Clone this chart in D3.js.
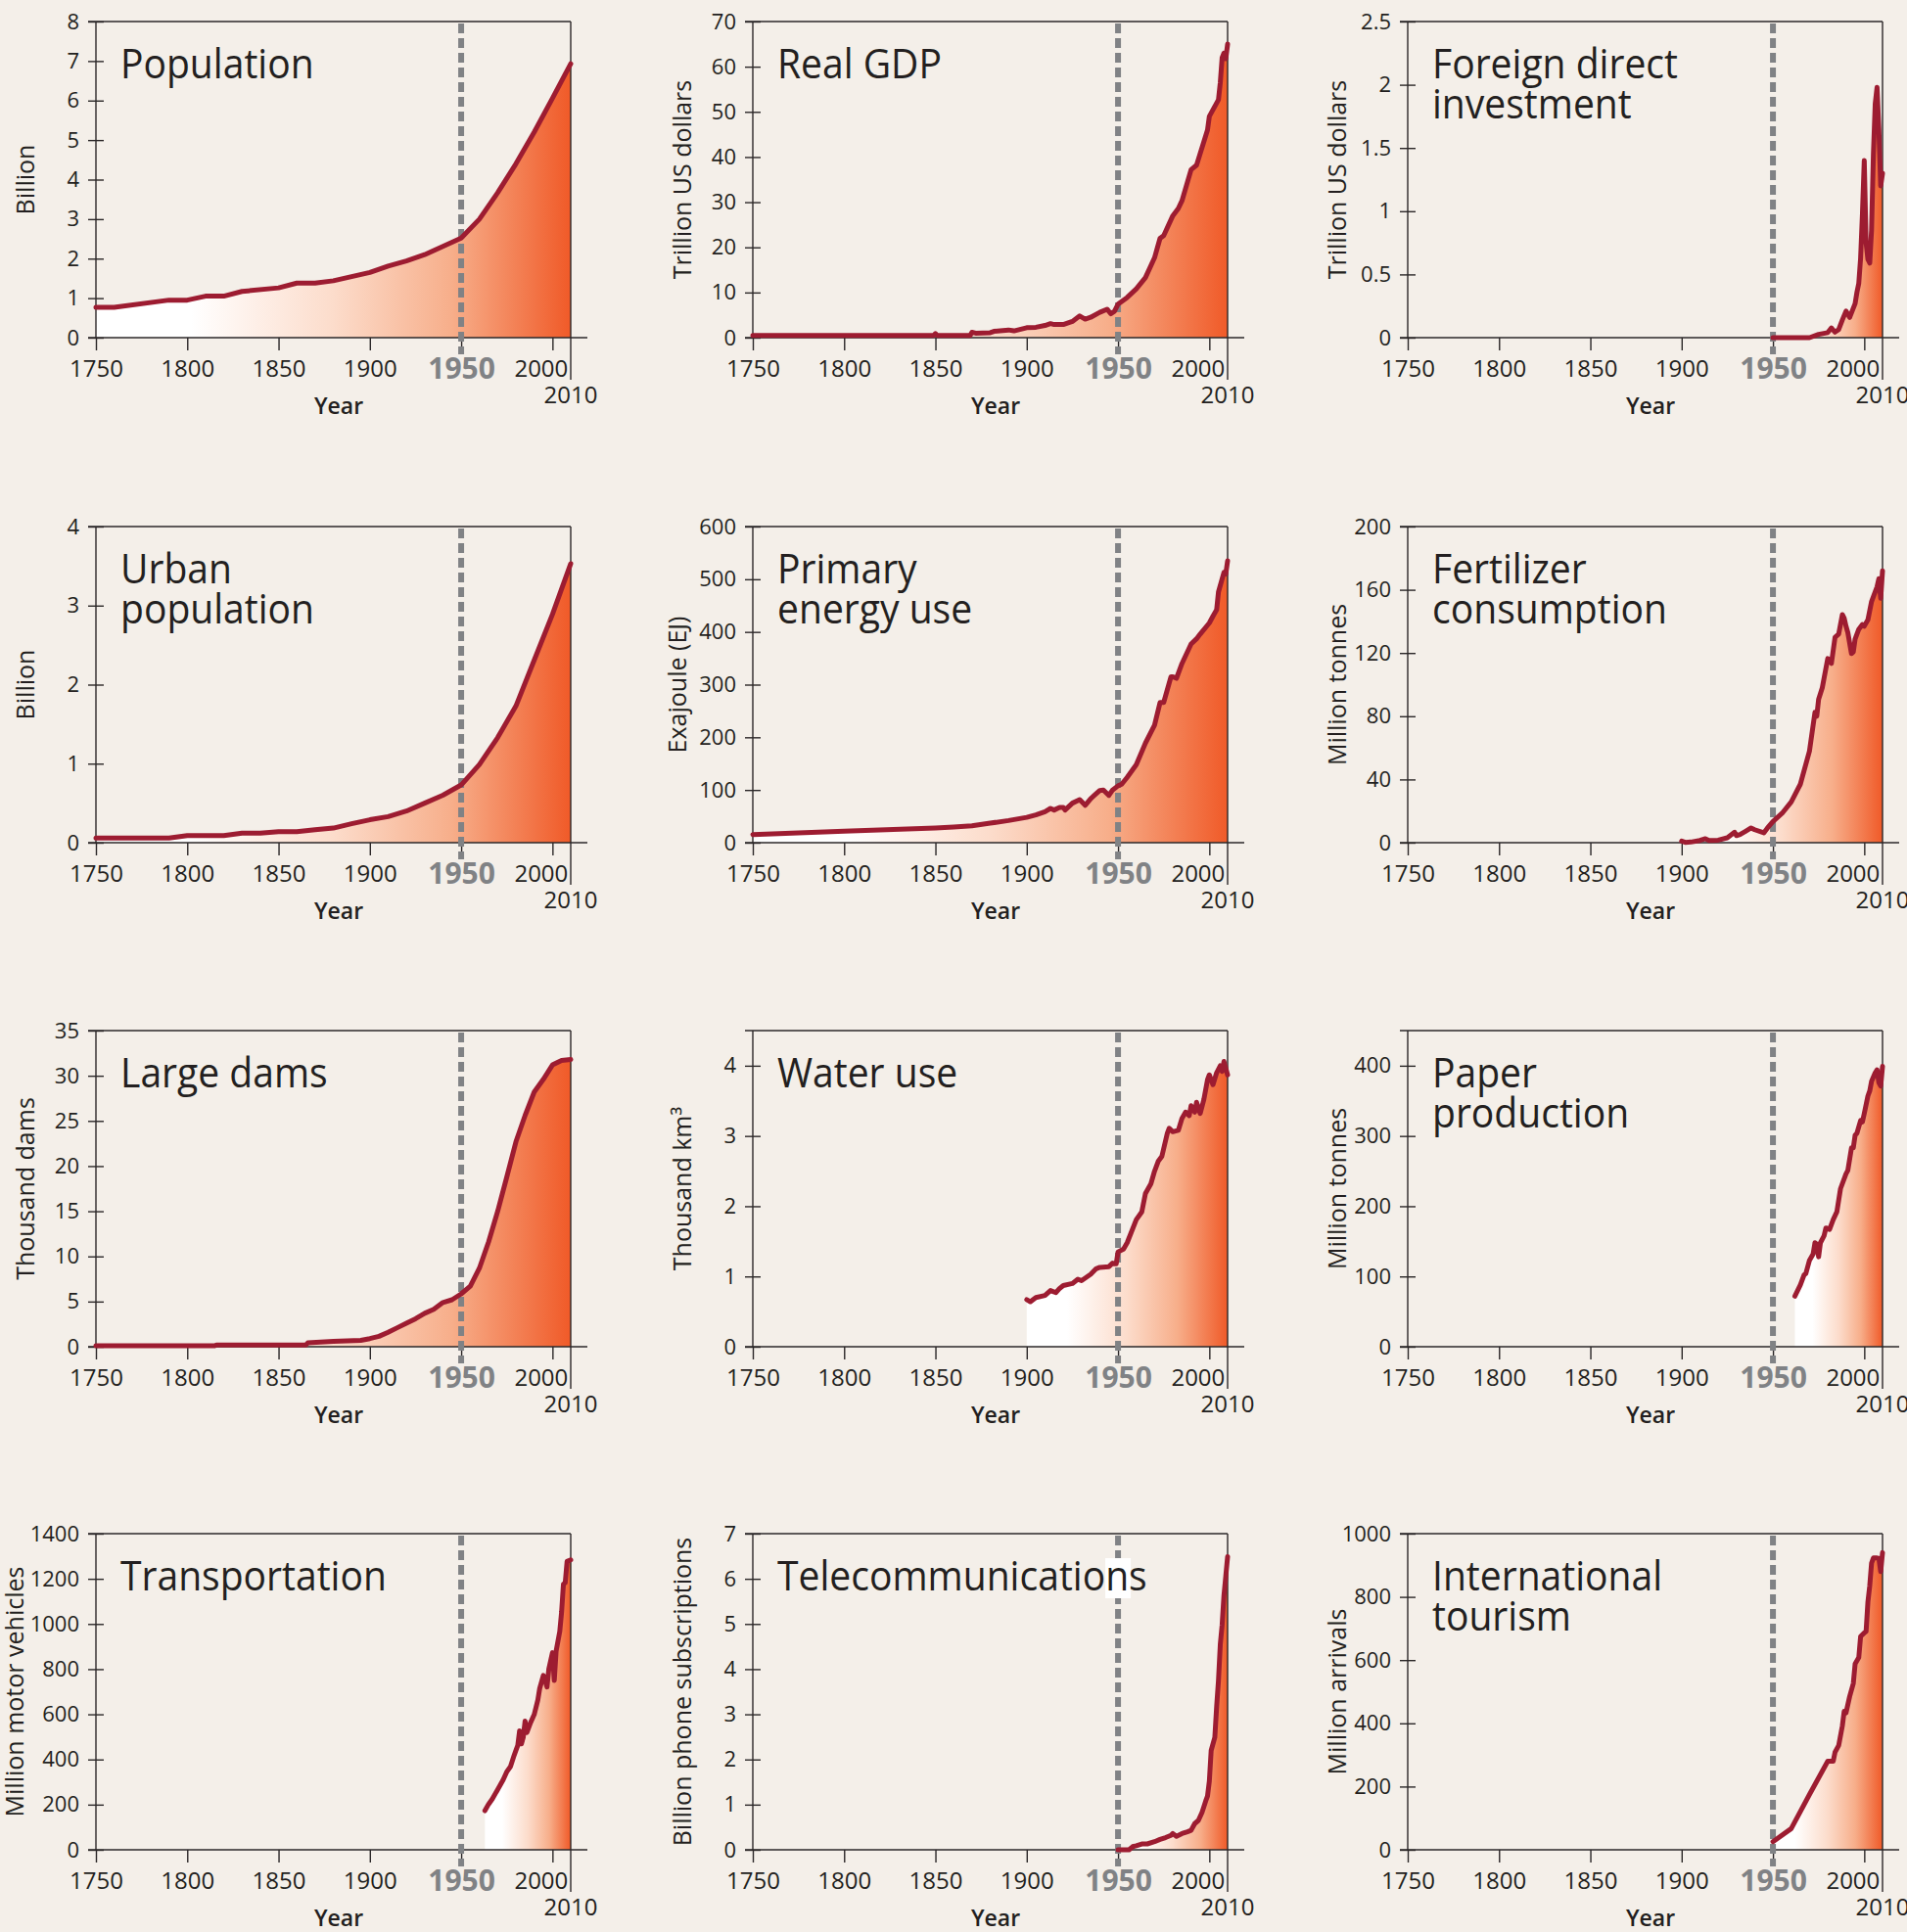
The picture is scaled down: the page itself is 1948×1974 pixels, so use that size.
<!DOCTYPE html>
<html>
<head>
<meta charset="utf-8">
<script src="https://cdn.jsdelivr.net/npm/d3@7"></script>
<style>
  body { margin: 0; background: #f4efe9; }
  text { font-family: "Open Sans", "Noto Sans", sans-serif; fill: #231f20; }
</style>
</head>
<body>
<svg id="chart"></svg>
<script>
// x axis
const xTicks = [1750, 1800, 1850, 1900, 1950, 2000];

// series
const popYears = [1750,1760,1790,1800,1810,1820,1830,1850,1860,1870,1880,1900,1910,1920,1930,1940,1950,1960,1970,1980,1990,2000,2010];
const pop = [0.77,0.77,0.95,0.95,1.05,1.05,1.17,1.26,1.38,1.38,1.44,1.65,1.81,1.94,2.1,2.31,2.52,3.0,3.67,4.4,5.2,6.06,6.93];

const gdpYears = [1750,1849,1850,1851,1869,1870,1872,1880,1882,1890,1893,1900,1905,1910,1913,1915,1920,1925,1929,1932,1935,1940,1944,1946,1948,1950,1955,1960,1965,1970,1973,1975,1980,1983,1985,1990,1993,1995,1999,2000,2005,2006,2007,2008,2009,2010];
const gdp = [0.5,0.5,0.9,0.5,0.5,1.2,1.0,1.1,1.4,1.7,1.5,2.2,2.3,2.7,3.1,2.9,2.9,3.6,4.8,4.1,4.5,5.6,6.3,5.3,5.8,7.4,8.9,10.8,13.3,17.7,22,22.6,27,28.6,30.3,37.2,38.2,40.8,46,49,52.7,56.5,62,63,61.8,65];

const fdiYears = [1950,1970,1975,1980,1982,1984,1986,1988,1990,1992,1995,1996,1997,1998,1999,2000,2001,2002,2003,2004,2005,2006,2007,2008,2009,2010];
const fdi = [0,0,0.026,0.04,0.077,0.044,0.064,0.14,0.21,0.16,0.27,0.36,0.43,0.63,0.98,1.40,0.75,0.62,0.59,0.85,1.45,1.85,1.98,1.65,1.2,1.30];

const urbYears = [1750,1790,1800,1820,1830,1840,1850,1860,1870,1880,1890,1900,1910,1920,1930,1940,1950,1960,1970,1980,1990,2000,2010];
const urb = [0.06,0.06,0.09,0.09,0.12,0.12,0.14,0.14,0.165,0.185,0.24,0.29,0.33,0.40,0.50,0.60,0.73,0.99,1.33,1.73,2.31,2.89,3.53];

const enYears = [1750,1800,1850,1860,1870,1880,1890,1900,1905,1910,1913,1915,1918,1920,1921,1925,1929,1932,1935,1937,1940,1942,1945,1947,1950,1952,1955,1960,1965,1970,1973,1975,1979,1980,1982,1985,1990,1993,1995,2000,2002,2004,2005,2008,2009,2010];
const en = [15.5,21.6,27.8,29.7,32,37,42,48,52.6,58.8,65,62,67,67,62,75,81.6,71,83.5,89.7,99,100,89.7,100,108,111,124,148,189,223,266,266,315,315,312,340,377,387,396,417,430,442,476,513,510,535];

const ferYears = [1900,1902,1905,1910,1913,1915,1920,1925,1929,1930,1932,1935,1938,1940,1945,1947,1950,1955,1960,1965,1970,1973,1974,1975,1977,1980,1982,1984,1986,1988,1989,1990,1991,1993,1994,1995,1997,1999,2000,2002,2004,2005,2007,2008,2009,2010];
const fer = [1,0.2,0.4,1.4,2.5,1.4,1.6,3.1,6.6,4.5,5.2,7.2,9.3,8.2,6.2,9.3,13.4,18.6,25.8,37,58,82.5,80,90.7,98,116.5,113.4,130,132,144.3,142,137,133,119.6,120.6,128.9,135,138,137,141,152.6,155.7,161.9,167,154.6,172];

const damYears = [1750,1815,1816,1865,1866,1880,1895,1900,1905,1910,1915,1920,1925,1930,1935,1940,1945,1950,1955,1960,1965,1970,1975,1980,1985,1990,1995,2000,2005,2010];
const dams = [0.1,0.1,0.2,0.2,0.43,0.6,0.7,0.9,1.15,1.6,2.1,2.6,3.1,3.7,4.15,4.9,5.2,5.85,6.7,8.7,11.6,15,18.8,22.7,25.6,28.2,29.6,31.2,31.7,31.8];

const watYears = [1900,1902,1905,1910,1913,1916,1918,1920,1925,1928,1930,1935,1938,1940,1945,1947,1949,1950,1953,1955,1960,1963,1965,1968,1970,1972,1974,1977,1978,1980,1983,1985,1987,1989,1990,1992,1993,1995,1997,1999,2000,2002,2004,2006,2007,2008,2010];
const wat = [0.67,0.64,0.7,0.73,0.8,0.77,0.83,0.87,0.9,0.96,0.94,1.03,1.11,1.13,1.14,1.19,1.18,1.35,1.39,1.48,1.81,1.92,2.18,2.32,2.5,2.64,2.71,3.04,3.11,3.06,3.08,3.25,3.34,3.29,3.43,3.34,3.48,3.32,3.52,3.8,3.87,3.73,3.9,4.0,3.92,4.06,3.87];

const papYears = [1962,1965,1967,1968,1970,1972,1973,1974,1975,1976,1978,1979,1981,1983,1985,1987,1990,1991,1993,1994,1995,1996,1998,1999,2000,2002,2003,2004,2006,2007,2008,2009,2010];
const pap = [72,88,102,104,123,132,148,146,128,148,158,169,167,181,192,225,246,251,283,283,301,304,322,320,332,357,364,378,390,394,376,371,399];

const traYears = [1963,1965,1967,1970,1973,1975,1977,1979,1980,1981,1982,1983,1984,1985,1986,1988,1990,1992,1993,1995,1996,1997,1998,2000,2001,2002,2004,2005,2006,2007,2008,2010];
const tra = [173,202,224,267,310,346,368,418,440,462,527,469,498,570,519,563,599,664,714,772,750,721,801,873,750,880,967,1053,1176,1183,1277,1284];

const telYears = [1950,1956,1958,1960,1963,1966,1970,1973,1976,1979,1980,1982,1985,1988,1990,1992,1994,1996,1998,1999,2000,2001,2003,2004,2005,2006,2007,2008,2009,2010];
const tel = [0,0,0.07,0.09,0.13,0.13,0.18,0.23,0.27,0.32,0.36,0.30,0.36,0.40,0.43,0.58,0.65,0.83,1.08,1.19,1.52,2.2,2.49,3.17,3.75,4.55,4.98,5.63,6.06,6.49];

const touYears = [1950,1960,1970,1980,1983,1984,1986,1988,1989,1990,1992,1994,1995,1997,1998,2000,2001,2002,2003,2004,2005,2007,2008,2009,2010];
const tou = [25.8,67,175,280,280,309,330,392,438,433,485,526,588,608,675,686,691,784,835,907,923,923,922,880,940];

// y ticks
const popTicks = [0,1,2,3,4,5,6,7,8];
const gdpTicks = [0,10,20,30,40,50,60,70];
const fdiTicks = [0,0.5,1,1.5,2,2.5];
const urbTicks = [0,1,2,3,4];
const enTicks = [0,100,200,300,400,500,600];
const ferTicks = [0,40,80,120,160,200];
const damTicks = [0,5,10,15,20,25,30,35];
const watTicks = [0,1,2,3,4];
const papTicks = [0,100,200,300,400];
const traTicks = [0,200,400,600,800,1000,1200,1400];
const telTicks = [0,1,2,3,4,5,6,7];
const touTicks = [0,200,400,600,800,1000];

const zip = (a, b) => a.map((v, i) => [v, b[i]]);

const panels = [
  { title: ["Population"], unit: "Billion", years: popYears, values: pop, ticks: popTicks, max: 8 },
  { title: ["Real GDP"], unit: "Trillion US dollars", years: gdpYears, values: gdp, ticks: gdpTicks, max: 70 },
  { title: ["Foreign direct", "investment"], unit: "Trillion US dollars", years: fdiYears, values: fdi, ticks: fdiTicks, max: 2.5 },
  { title: ["Urban", "population"], unit: "Billion", years: urbYears, values: urb, ticks: urbTicks, max: 4 },
  { title: ["Primary", "energy use"], unit: "Exajoule (EJ)", years: enYears, values: en, ticks: enTicks, max: 600, labelGap: 68 },
  { title: ["Fertilizer", "consumption"], unit: "Million tonnes", years: ferYears, values: fer, ticks: ferTicks, max: 200 },
  { title: ["Large dams"], unit: "Thousand dams", years: damYears, values: dams, ticks: damTicks, max: 35 },
  { title: ["Water use"], unit: "Thousand km\u00b3", years: watYears, values: wat, ticks: watTicks, max: 4.5 },
  { title: ["Paper", "production"], unit: "Million tonnes", years: papYears, values: pap, ticks: papTicks, max: 450 },
  { title: ["Transportation"], unit: "Million motor vehicles", years: traYears, values: tra, ticks: traTicks, max: 1400, labelGap: 74 },
  { title: ["Telecommunications"], unit: "Billion phone subscriptions", years: telYears, values: tel, ticks: telTicks, max: 7, patch: true },
  { title: ["International", "tourism"], unit: "Million arrivals", years: touYears, values: tou, ticks: touTicks, max: 1000 }
];

const width = 1948, height = 1974;
const W = 485, H = 323;
const colX = [98, 769, 1438];
const rowY = [22, 538, 1053, 1567];
const lineColor = "#9d1c31";
const dashColor = "#808285";
const axisColor = "#2b2728";

const svg = d3.select("#chart").attr("width", width).attr("height", height);
svg.append("rect").attr("width", width).attr("height", height).attr("fill", "#f4efe9");

const grad = svg.append("defs").append("linearGradient")
  .attr("id", "fade").attr("x1", 0).attr("x2", 1).attr("y1", 0).attr("y2", 0);
[[0, "#ffffff"], [0.2, "#ffffff"], [0.5, "#fcdccb"], [0.75, "#f7ae8a"], [1, "#f05a28"]]
  .forEach(s => grad.append("stop").attr("offset", s[0]).attr("stop-color", s[1]));

const x = d3.scaleLinear().domain([1750, 2010]).range([0, W]);

panels.forEach((p, i) => {
  const g = svg.append("g")
    .attr("transform", `translate(${colX[i % 3]},${rowY[Math.floor(i / 3)]})`);
  const y = d3.scaleLinear().domain([0, p.max]).range([H, 0]);
  const data = zip(p.years, p.values);

  // fill under the curve
  g.append("path")
    .attr("fill", "url(#fade)")
    .attr("d", d3.area().x(d => x(d[0])).y0(H).y1(d => y(d[1]))(data));

  // frame: top and right border, baseline
  g.append("line").attr("x1", -8).attr("x2", x(2010)).attr("y1", 0).attr("y2", 0)
    .attr("stroke", axisColor).attr("stroke-width", 1.4);
  g.append("line").attr("x1", x(2010)).attr("x2", x(2010)).attr("y1", 0).attr("y2", H + 43)
    .attr("stroke", axisColor).attr("stroke-width", 1.4);
  g.append("line").attr("x1", -8).attr("x2", x(2010) + 17).attr("y1", H).attr("y2", H)
    .attr("stroke", axisColor).attr("stroke-width", 1.4);

  // y axis
  g.append("g")
    .call(d3.axisLeft(y).tickValues(p.ticks).tickSize(8).tickPadding(9).tickFormat(d => String(d)))
    .call(a => a.select(".domain").attr("d", `M0,0V${H}`).attr("stroke", axisColor).attr("stroke-width", 1.4))
    .call(a => a.selectAll(".tick line").attr("x1", 8).attr("stroke", axisColor).attr("stroke-width", 1.4))
    .call(a => a.selectAll(".tick text").attr("font-size", 22).attr("fill", "#231f20"))
    .attr("font-family", null);

  // x axis
  g.append("g")
    .attr("transform", `translate(0,${H})`)
    .call(d3.axisBottom(x).tickValues(xTicks).tickSize(13).tickFormat(d3.format("d")))
    .call(a => a.select(".domain").remove())
    .call(a => a.selectAll(".tick line").attr("stroke", axisColor).attr("stroke-width", 1.4))
    .call(a => a.selectAll(".tick text")
      .attr("y", 40).attr("dy", null).attr("font-size", 24).attr("fill", "#231f20")
      .attr("x", d => d === 2000 ? -12 : 0))
    .call(a => a.selectAll(".tick text").filter(d => d === 1950)
      .attr("y", 42).attr("font-size", 30).attr("font-weight", "bold").style("fill", dashColor))
    .attr("font-family", null);

  g.append("text").attr("x", x(2010)).attr("y", H + 67).attr("text-anchor", "middle")
    .attr("font-size", 24).text("2010");
  g.append("text").attr("x", 248).attr("y", H + 78).attr("text-anchor", "middle")
    .attr("font-size", 23).attr("font-weight", 600).text("Year");

  // y label
  g.append("text")
    .attr("transform", `translate(${-(p.labelGap || 63)},${H / 2}) rotate(-90)`)
    .attr("text-anchor", "middle").attr("font-size", 25).text(p.unit);

  // 1950 marker
  g.append("line").attr("x1", x(1950)).attr("x2", x(1950)).attr("y1", 2).attr("y2", H + 17)
    .attr("stroke", dashColor).attr("stroke-width", 6).attr("stroke-dasharray", "10,5");

  // series line
  g.append("path")
    .attr("fill", "none").attr("stroke", lineColor).attr("stroke-width", 5)
    .attr("stroke-linejoin", "round").attr("stroke-linecap", "round")
    .attr("d", d3.line().x(d => x(d[0])).y(d => y(d[1]))(data));

  // white patch behind the title, as in the source figure
  if (p.patch) {
    g.append("rect").attr("x", x(1950) - 13).attr("y", 25).attr("width", 26).attr("height", 41).attr("fill", "#ffffff");
  }

  // title
  const t = g.append("text").attr("transform", "translate(25,58) scale(0.93,1)").attr("font-size", 42);
  p.title.forEach((line, k) => t.append("tspan").attr("x", 0).attr("y", k * 41).text(line));
});
</script>
</body>
</html>
